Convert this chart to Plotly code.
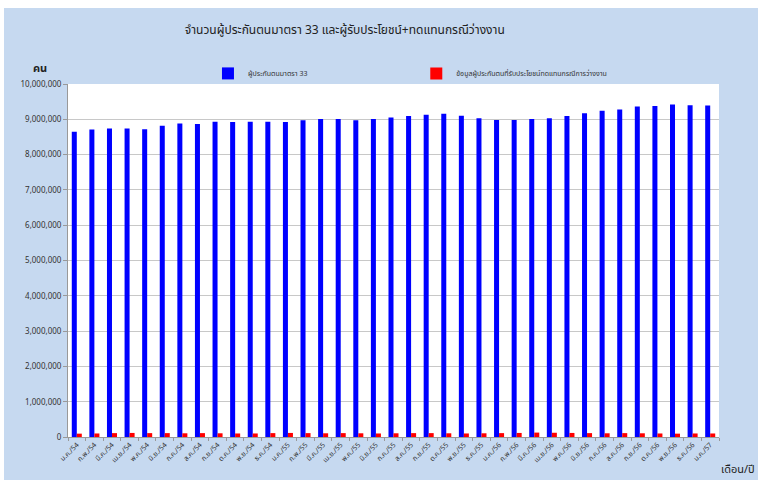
import plotly.graph_objects as go

months = ["ม.ค.", "ก.พ.", "มี.ค.", "เม.ย.", "พ.ค.", "มิ.ย.", "ก.ค.", "ส.ค.", "ก.ย.", "ต.ค.", "พ.ย.", "ธ.ค."]
categories = [f"{m}/{y}" for y in ["54", "55", "56"] for m in months] + ["ม.ค./57"]

insured_s33 = [8650000, 8710000, 8740000, 8740000, 8720000, 8820000, 8880000, 8870000,
               8930000, 8920000, 8930000, 8930000, 8920000, 8970000, 9010000, 9010000,
               8970000, 9010000, 9050000, 9090000, 9130000, 9160000, 9100000, 9030000,
               8980000, 8980000, 9010000, 9030000, 9090000, 9170000, 9240000, 9280000,
               9360000, 9380000, 9420000, 9400000, 9390000]

unemployment_benefit = [95000, 100000, 110000, 115000, 110000, 110000, 105000, 110000,
                        105000, 100000, 100000, 110000, 115000, 110000, 105000, 110000,
                        105000, 100000, 105000, 110000, 110000, 105000, 100000, 105000,
                        110000, 115000, 125000, 120000, 115000, 110000, 105000, 110000,
                        105000, 100000, 95000, 100000, 100000]

FONT = "Tahoma, 'Noto Sans Thai', 'Leelawadee UI', 'DejaVu Sans', sans-serif"

fig = go.Figure()
fig.add_trace(go.Bar(x=categories, y=insured_s33, name="ผู้ประกันตนมาตรา 33",
                     marker=dict(color="#0000FF", line=dict(width=0)), legend="legend"))
fig.add_trace(go.Bar(x=categories, y=unemployment_benefit,
                     name="ข้อมูลผู้ประกันตนที่รับประโยชน์ทดแทนกรณีการว่างงาน",
                     marker=dict(color="#FF0000", line=dict(width=0)), legend="legend2"))

fig.update_layout(
    width=754, height=472,
    margin=dict(l=64, r=39, t=76, b=43),
    paper_bgcolor="#C6D9F0",
    plot_bgcolor="#FFFFFF",
    font=dict(family=FONT, size=8, color="#333333"),
    showlegend=True,
    barmode="group",
    bargap=0.43,
    bargroupgap=0,
    title=dict(text="จำนวนผู้ประกันตนมาตรา 33 และผู้รับประโยชน์+ทดแทนกรณีว่างงาน",
               x=0.452, xanchor="center", y=0.953, yanchor="middle",
               font=dict(size=12, color="#222222", family=FONT)),
    legend=dict(x=0.215, y=1.03, xanchor="left", yanchor="middle", orientation="h",
                bgcolor="rgba(0,0,0,0)", font=dict(size=7, color="#333333"),
                itemwidth=30, visible=True),
    legend2=dict(x=0.535, y=1.03, xanchor="left", yanchor="middle", orientation="h",
                 bgcolor="rgba(0,0,0,0)", font=dict(size=7, color="#333333"),
                 itemwidth=30, visible=True),
    xaxis=dict(type="category", tickangle=-45, tickfont=dict(size=7, color="#333333"),
               ticks="outside", tickson="boundaries", ticklen=3, tickcolor="#999999",
               showline=True, linecolor="#999999", linewidth=1, showgrid=False),
    yaxis=dict(range=[0, 10000000], dtick=1000000, tickformat=",", ticks="outside",
               ticklen=4, tickcolor="#999999", showline=True, linecolor="#999999",
               gridcolor="#C8C8C8", gridwidth=1, tickfont=dict(size=8, color="#333333"),
               zeroline=False),
    annotations=[
        dict(text="<b>คน</b>", xref="paper", yref="paper", x=-0.043, y=1.045,
             xanchor="center", yanchor="middle", showarrow=False,
             font=dict(size=11, color="#222222")),
        dict(text="เดือน/ปี", xref="paper", yref="paper", x=1.058, y=-0.093,
             xanchor="right", yanchor="middle", showarrow=False,
             font=dict(size=11, color="#222222")),
    ],
)

fig.write_html("out.html",
               post_script="document.body.style.margin='8px 0 0 4px';document.body.style.overflow='hidden';")
